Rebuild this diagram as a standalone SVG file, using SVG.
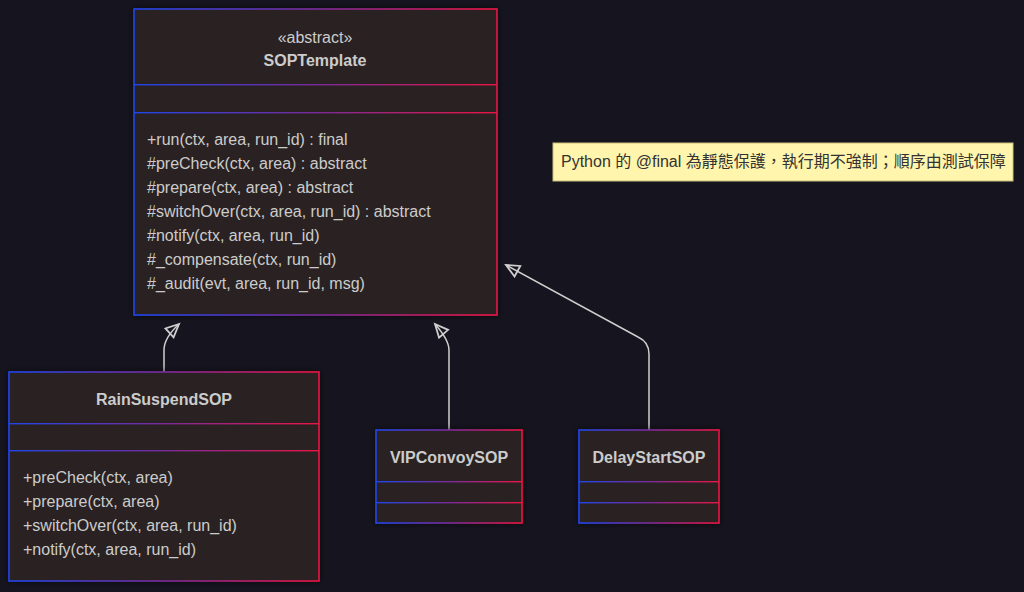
<svg xmlns="http://www.w3.org/2000/svg" width="1024" height="592" viewBox="0 0 1024 592">
<defs>
<linearGradient id="g" x1="0" y1="0" x2="1" y2="0">
<stop offset="0" stop-color="#1f45ea"/>
<stop offset="0.5" stop-color="#7a2a9a"/>
<stop offset="1" stop-color="#ec1444"/>
</linearGradient>
<filter id="sh" x="-10%" y="-10%" width="120%" height="120%">
<feDropShadow dx="0" dy="0" stdDeviation="3" flood-color="#000" flood-opacity="0.6"/>
</filter>
<marker id="ext" viewBox="0 0 20 20" refX="15" refY="7" markerWidth="20" markerHeight="20" markerUnits="userSpaceOnUse" orient="auto">
<path d="M15,7 L2,1 L2,13 Z" fill="none" stroke="#cfcfcf" stroke-width="1.8" stroke-linejoin="miter"/>
</marker>
<style>
.box{fill:#2a2223;stroke:url(#g);stroke-width:1.6;filter:url(#sh)}
.div{fill:url(#g)}
.t{font-family:"Liberation Sans",Arial,sans-serif;font-size:16px;fill:#cccccc}
.b{font-weight:bold;text-anchor:middle}
.c{text-anchor:middle}
.e{fill:none;stroke:#cfcfcf;stroke-width:1.5}
</style>
</defs>
<rect width="1024" height="592" fill="#16151f"/>
<g id="connectors">
<path class="e" d="M164,372 L164,350 Q164,338 179,324" marker-end="url(#ext)"/>
<path class="e" d="M449,430 L449,350 Q449,340 435,324" marker-end="url(#ext)"/>
<path class="e" d="M649,430 L649,354 Q649,342 638,337 L506,265" marker-end="url(#ext)"/>
</g>
<g id="SOPTemplate">
<rect class="box" x="134" y="9" width="363" height="306"/>
<rect class="div" x="134" y="84" width="363" height="1.4"/>
<rect class="div" x="134" y="112" width="363" height="1.4"/>
<text class="t c" x="315" y="43">«abstract»</text>
<text class="t b" x="315" y="66">SOPTemplate</text>
<text class="t" x="147" y="145">+run(ctx, area, run_id) : final</text>
<text class="t" x="147" y="169">#preCheck(ctx, area) : abstract</text>
<text class="t" x="147" y="193">#prepare(ctx, area) : abstract</text>
<text class="t" x="147" y="217">#switchOver(ctx, area, run_id) : abstract</text>
<text class="t" x="147" y="241">#notify(ctx, area, run_id)</text>
<text class="t" x="147" y="265">#_compensate(ctx, run_id)</text>
<text class="t" x="147" y="289">#_audit(evt, area, run_id, msg)</text>
</g>
<g id="RainSuspendSOP">
<rect class="box" x="9" y="372" width="310" height="209"/>
<rect class="div" x="9" y="423" width="310" height="1.4"/>
<rect class="div" x="9" y="450" width="310" height="1.4"/>
<text class="t b" x="164" y="405">RainSuspendSOP</text>
<text class="t" x="23" y="483">+preCheck(ctx, area)</text>
<text class="t" x="23" y="507">+prepare(ctx, area)</text>
<text class="t" x="23" y="531">+switchOver(ctx, area, run_id)</text>
<text class="t" x="23" y="555">+notify(ctx, area, run_id)</text>
</g>
<g id="VIPConvoySOP">
<rect class="box" x="376" y="430" width="146" height="93"/>
<rect class="div" x="376" y="481" width="146" height="1.4"/>
<rect class="div" x="376" y="502" width="146" height="1.4"/>
<text class="t b" x="449" y="463">VIPConvoySOP</text>
</g>
<g id="DelayStartSOP">
<rect class="box" x="579" y="430" width="140" height="93"/>
<rect class="div" x="579" y="481" width="140" height="1.4"/>
<rect class="div" x="579" y="502" width="140" height="1.4"/>
<text class="t b" x="649" y="463">DelayStartSOP</text>
</g>
<g id="note">
<rect x="553" y="143" width="460" height="38" fill="#fff5ad" stroke="#c9c07a" stroke-width="1"/>
<text x="561" y="167" style="font-family:'Liberation Sans','Noto Sans CJK TC',sans-serif;font-size:16px;fill:#333333">Python 的 @final 為靜態保護，執行期不強制；順序由測試保障</text>
</g>
</svg>
